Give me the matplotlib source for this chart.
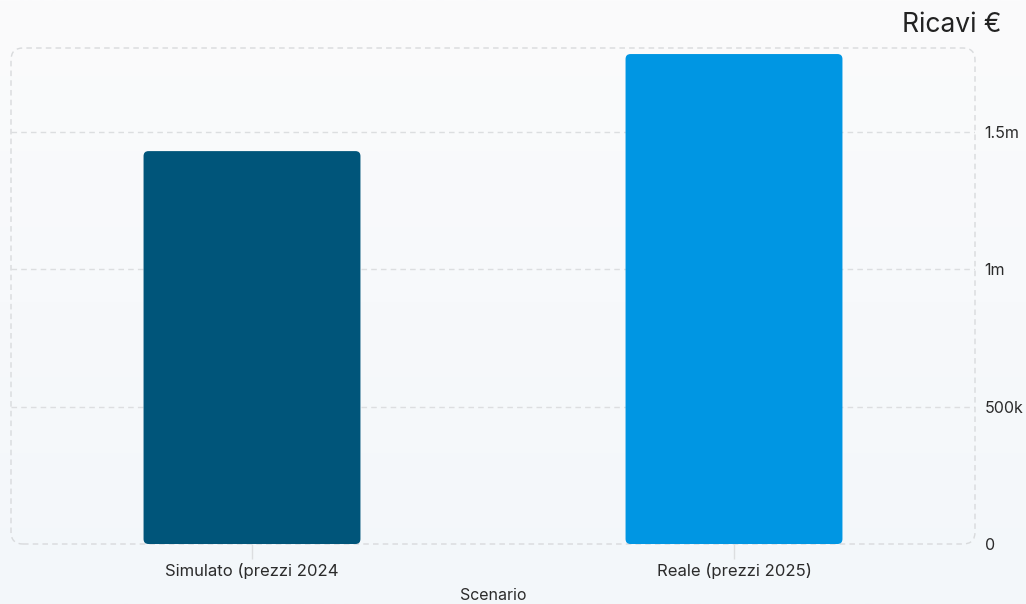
import matplotlib
matplotlib.use("Agg")
import matplotlib.pyplot as plt
import numpy as np
from matplotlib.patches import FancyBboxPatch
from matplotlib.colors import LinearSegmentedColormap

plt.rcParams['font.family'] = ['Inter', 'DejaVu Sans']

# data
scenari = ['Simulato (prezzi 2024', 'Reale (prezzi 2025)']
ricavi = [1_429_000, 1_782_000]
colori = ['#00557A', '#0096E3']
y_ticks = [0, 500_000, 1_000_000, 1_500_000]
y_labels = ['0', '500k', '1m', '1.5m']

W, H, DPI = 1026, 604, 100
fig = plt.figure(figsize=(W / DPI, H / DPI), dpi=DPI)

# soft vertical gradient background
bg = fig.add_axes([0, 0, 1, 1], zorder=-10)
grad = np.linspace(0, 1, 256).reshape(-1, 1)
cmap = LinearSegmentedColormap.from_list('bg', ['#FBFBFC', '#F3F7FA'])
bg.imshow(grad, aspect='auto', cmap=cmap, extent=[0, 1, 0, 1], origin='upper')
bg.axis('off')

left, right, bottom, top = 11, 975, 544, 48
ax = fig.add_axes([left / W, (H - bottom) / H, (right - left) / W, (bottom - top) / H])
ax.patch.set_alpha(0)
ymax = 1_804_000
ax.set_xlim(-0.5, len(scenari) - 0.5)
ax.set_ylim(0, ymax)

# rounded bars
bw = 0.45
px_w = (right - left) / len(scenari)
aspect = (ymax / (bottom - top)) / (1 / px_w)
for i, (v, c) in enumerate(zip(ricavi, colori)):
    p = FancyBboxPatch((i - bw / 2, 0), bw, v,
                       boxstyle=f"round,pad=0,rounding_size={5 / px_w}",
                       mutation_aspect=aspect, fc=c, ec='none', zorder=3)
    ax.add_patch(p)

# grid
for t in y_ticks[1:]:
    ax.axhline(t, color='#DCDEE0', lw=1, ls=(0, (4, 3)), zorder=1)

# dashed rounded frame
frame = FancyBboxPatch((0, 0), 1, 1, transform=ax.transAxes,
                       boxstyle=f"round,pad=0,rounding_size={12 / (right - left)}",
                       mutation_aspect=(right - left) / (bottom - top),
                       fc='none', ec='#D8DADC', lw=1, ls=(0, (4, 3)),
                       zorder=2, clip_on=False)
ax.add_patch(frame)

for s in ax.spines.values():
    s.set_visible(False)

ax.yaxis.tick_right()
ax.set_yticks(y_ticks)
ax.set_yticklabels(y_labels)
ax.tick_params(axis='y', length=0, pad=7, labelsize=11.5, labelcolor='#2B2B2B')
ax.set_xticks(range(len(scenari)))
ax.set_xticklabels(scenari)
ax.tick_params(axis='x', length=11, width=1, color='#DCDEE0', pad=3,
               labelsize=12, labelcolor='#2B2B2B')

fig.text((left + right) / 2 / W, 1 - 596 / H, 'Scenario', ha='center', va='center',
         fontsize=11.5, color='#2B2B2B')
fig.text(1001 / W, 1 - 25 / H, 'Ricavi €', ha='right', va='center',
         fontsize=19, color='#222222')

fig.savefig('out.png', dpi=DPI)
